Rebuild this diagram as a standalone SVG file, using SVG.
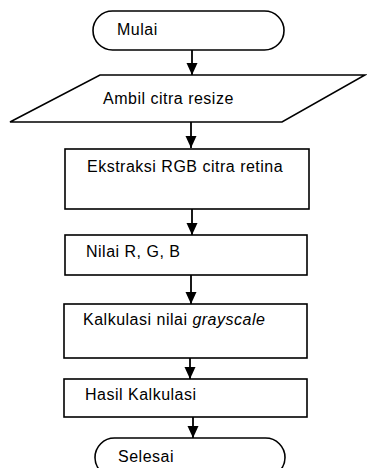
<svg xmlns="http://www.w3.org/2000/svg" width="367" height="468" viewBox="0 0 367 468">
  <style>
    .shape { fill: #ffffff; stroke: #000000; stroke-width: 1.6; }
    .label { font-family: "Liberation Sans", Arial, sans-serif; font-size: 16px; letter-spacing: 0.5px; fill: #000000; }
    .edge { fill: none; stroke: #000000; stroke-width: 1.8; }
  </style>
  <defs>
    <marker id="arrow" viewBox="0 0 12 11" refX="12" refY="5.5" markerWidth="12" markerHeight="13" markerUnits="userSpaceOnUse" orient="auto">
      <path d="M0,0 L12,5.5 L0,11 Z" fill="#000000"/>
    </marker>
  </defs>
  <rect width="367" height="468" fill="#ffffff"/>

  <!-- connectors -->
  <g id="connectors">
    <line class="edge" x1="192" y1="50" x2="192" y2="75" marker-end="url(#arrow)"/>
    <line class="edge" x1="191" y1="122" x2="191" y2="148" marker-end="url(#arrow)"/>
    <line class="edge" x1="192" y1="209" x2="192" y2="235" marker-end="url(#arrow)"/>
    <line class="edge" x1="191" y1="275" x2="191" y2="304" marker-end="url(#arrow)"/>
    <line class="edge" x1="190" y1="358" x2="190" y2="379" marker-end="url(#arrow)"/>
    <line class="edge" x1="193" y1="417" x2="193" y2="438" marker-end="url(#arrow)"/>
  </g>

  <!-- start -->
  <g id="mulai">
    <rect class="shape" x="93" y="11" width="191" height="39" rx="19.5" ry="19.5"/>
    <text class="label" x="117" y="35">Mulai</text>
  </g>

  <!-- input -->
  <g id="ambil-citra">
    <polygon class="shape" points="100,75 365,75 282,122 10,122"/>
    <text class="label" x="103" y="104">Ambil citra resize</text>
  </g>

  <!-- process steps -->
  <g id="ekstraksi-rgb">
    <rect class="shape" x="65" y="149" width="244" height="60"/>
    <text class="label" x="87" y="172">Ekstraksi RGB citra retina</text>
  </g>

  <g id="nilai-rgb">
    <rect class="shape" x="65" y="235" width="242" height="40"/>
    <text class="label" x="86" y="257">Nilai R, G, B</text>
  </g>

  <g id="kalkulasi-grayscale">
    <rect class="shape" x="64" y="304" width="243" height="54"/>
    <text class="label" x="83" y="325">Kalkulasi nilai <tspan font-style="italic">grayscale</tspan></text>
  </g>

  <g id="hasil-kalkulasi">
    <rect class="shape" x="64" y="379" width="243" height="38"/>
    <text class="label" x="85" y="400">Hasil Kalkulasi</text>
  </g>

  <!-- end -->
  <g id="selesai">
    <rect class="shape" x="95" y="438" width="190" height="39" rx="19.5" ry="19.5"/>
    <text class="label" x="118" y="462">Selesai</text>
  </g>
</svg>
